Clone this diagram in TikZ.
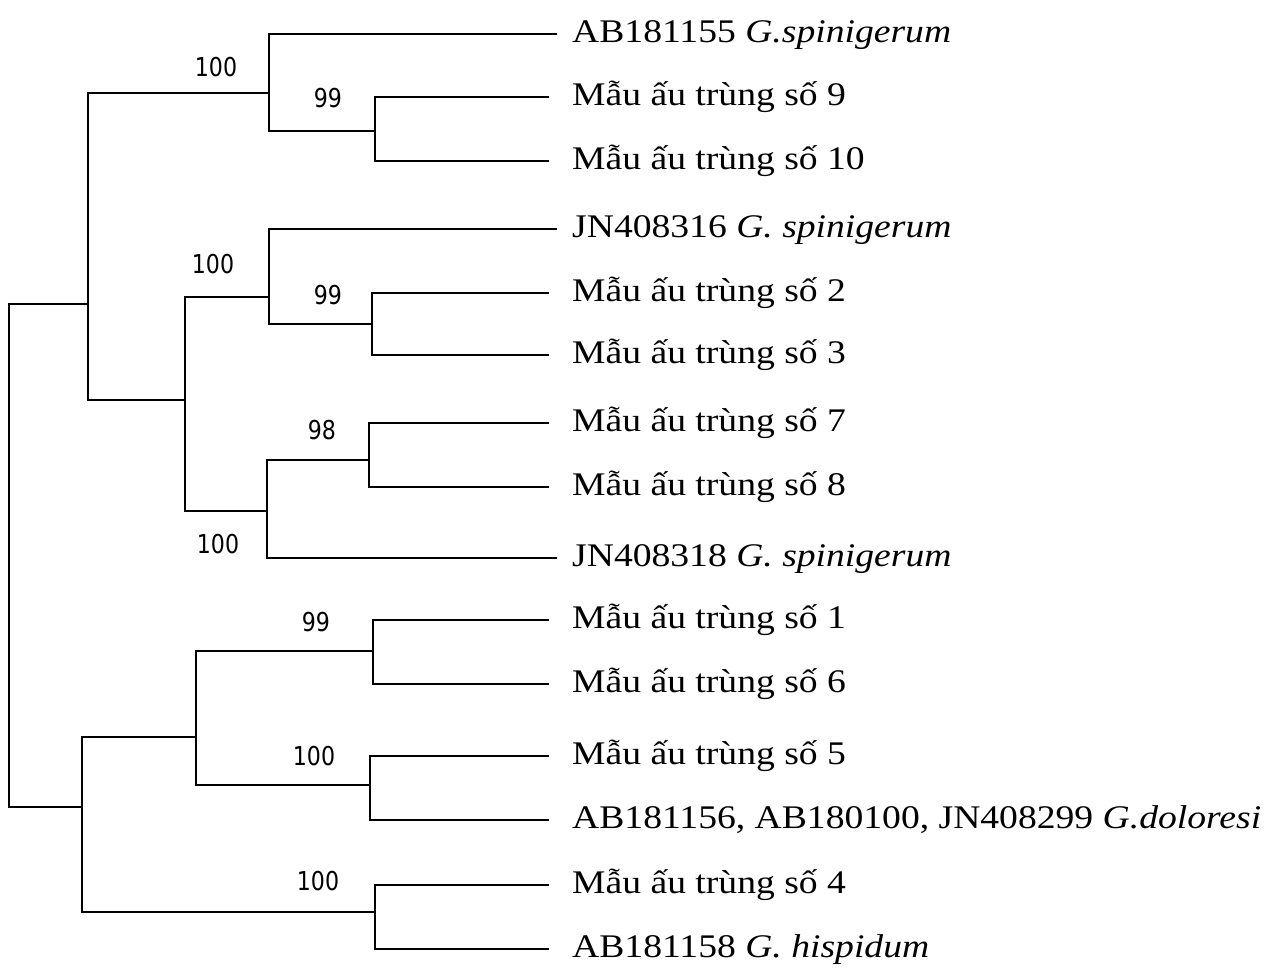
\documentclass[tikz,border=0pt]{standalone}
\usepackage{fontspec}
\setmainfont{Liberation Serif}
\newfontfamily\leaffont[FakeStretch=1.14]{Liberation Serif}
\newfontfamily\bootfont[FakeStretch=0.85]{DejaVu Sans}
\tikzset{
  branch/.style={line width=1.8pt, line cap=rect},
  leaf/.style={anchor=base west, inner sep=0pt, font=\leaffont\fontsize{33}{40}\selectfont},
  boot/.style={anchor=base, inner sep=0pt, font=\bootfont\fontsize{26}{30}\selectfont}
}
\begin{document}
\begin{tikzpicture}[x=1pt,y=-1pt]
\useasboundingbox (0,0) rectangle (1283,967);

% tips of the terminal branches
\coordinate (L1)  at (556,34);
\coordinate (L2)  at (548,97);
\coordinate (L3)  at (548,161);
\coordinate (L4)  at (556,229);
\coordinate (L5)  at (548,293);
\coordinate (L6)  at (548,355);
\coordinate (L7)  at (548,423);
\coordinate (L8)  at (548,487);
\coordinate (L9)  at (556,558);
\coordinate (L10) at (548,620);
\coordinate (L11) at (548,684);
\coordinate (L12) at (548,756);
\coordinate (L13) at (548,820);
\coordinate (L14) at (548,885);
\coordinate (L15) at (548,949);

% internal nodes (x of the split, y where the parent branch joins)
\coordinate (n910) at (375,131);
\coordinate (nA)   at (269,93);
\coordinate (n23)  at (372,324);
\coordinate (nB)   at (269,297);
\coordinate (n78)  at (369,460);
\coordinate (nC)   at (267,511);
\coordinate (nD)   at (185,400);
\coordinate (nE)   at (88,304);
\coordinate (n16)  at (373,651);
\coordinate (n5)   at (370,785);
\coordinate (nF)   at (196,737);
\coordinate (n4)   at (375,912);
\coordinate (nG)   at (82,807);
\coordinate (root) at (9,556);

% branches
\draw[branch] (L2) -| (n910) |- (L3);
\draw[branch] (L1) -| (nA) |- (n910);
\draw[branch] (L5) -| (n23) |- (L6);
\draw[branch] (L4) -| (nB) |- (n23);
\draw[branch] (L7) -| (n78) |- (L8);
\draw[branch] (n78) -| (nC) |- (L9);
\draw[branch] (nB) -| (nD) |- (nC);
\draw[branch] (nA) -| (nE) |- (nD);
\draw[branch] (L10) -| (n16) |- (L11);
\draw[branch] (L12) -| (n5) |- (L13);
\draw[branch] (n16) -| (nF) |- (n5);
\draw[branch] (L14) -| (n4) |- (L15);
\draw[branch] (nF) -| (nG) |- (n4);
\draw[branch] (nE) -| (root) |- (nG);

% taxon labels
\node[leaf] (t1)  at (572,42)  {AB181155 \textit{G.spinigerum}};
\node[leaf] (t2)  at (572,105) {Mẫu ấu trùng số 9};
\node[leaf] (t3)  at (572,169) {Mẫu ấu trùng số 10};
\node[leaf] (t4)  at (572,237) {JN408316 \textit{G. spinigerum}};
\node[leaf] (t5)  at (572,301) {Mẫu ấu trùng số 2};
\node[leaf] (t6)  at (572,363) {Mẫu ấu trùng số 3};
\node[leaf] (t7)  at (572,431) {Mẫu ấu trùng số 7};
\node[leaf] (t8)  at (572,495) {Mẫu ấu trùng số 8};
\node[leaf] (t9)  at (572,566) {JN408318 \textit{G. spinigerum}};
\node[leaf] (t10) at (572,628) {Mẫu ấu trùng số 1};
\node[leaf] (t11) at (572,692) {Mẫu ấu trùng số 6};
\node[leaf] (t12) at (572,764) {Mẫu ấu trùng số 5};
\node[leaf] (t13) at (572,828) {AB181156, AB180100, JN408299 \textit{G.doloresi}};
\node[leaf] (t14) at (572,893) {Mẫu ấu trùng số 4};
\node[leaf] (t15) at (572,957) {AB181158 \textit{G. hispidum}};

% bootstrap values
\node[boot] (b1) at (216,76)  {100};
\node[boot] (b2) at (328,107) {99};
\node[boot] (b3) at (213,273) {100};
\node[boot] (b4) at (328,304) {99};
\node[boot] (b5) at (322,439) {98};
\node[boot] (b6) at (218,553) {100};
\node[boot] (b7) at (316,631) {99};
\node[boot] (b8) at (314,765) {100};
\node[boot] (b9) at (318,890) {100};
\end{tikzpicture}
\end{document}
